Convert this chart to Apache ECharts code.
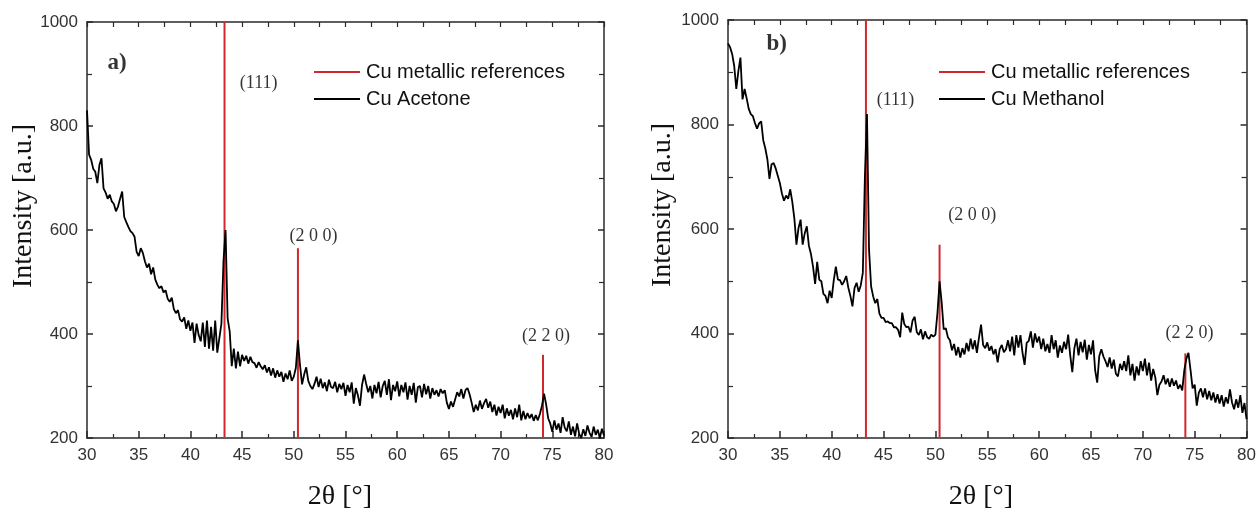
<!DOCTYPE html>
<html>
<head>
<meta charset="utf-8">
<script src="https://cdn.jsdelivr.net/npm/echarts@6/dist/echarts.min.js"></script>
<style>
html,body{margin:0;padding:0;background:#fff;}
#chart{width:1259px;height:513px;}
</style>
</head>
<body>
<div id="chart"></div>
<script>
// ---- data ----
const twoThetaStart = 30;
const twoThetaStep = 0.2;
const xTicks = [30, 35, 40, 45, 50, 55, 60, 65, 70, 75, 80];
const yTicks = [200, 400, 600, 800, 1000];

const acetoneIntensity = [
  830,745,735,718,712,690,725,738,680,672,
  660,668,655,650,636,645,660,674,625,615,
  606,598,594,587,558,550,565,556,540,528,
  535,515,528,505,495,488,492,480,484,468,
  462,470,448,440,446,428,424,432,410,426,
  406,422,383,420,398,386,422,375,426,372,
  414,368,426,364,392,420,540,600,430,405,
  338,372,334,366,338,360,348,358,343,356,
  346,344,335,346,338,332,340,326,336,320,
  334,316,330,318,327,308,324,313,330,310,
  318,335,388,340,303,322,336,310,300,294,
  304,318,298,314,296,307,290,312,298,296,
  308,288,304,294,306,281,302,288,307,266,
  296,282,262,302,322,304,288,300,276,302,
  286,308,278,300,310,283,313,273,302,290,
  309,280,302,288,307,274,300,283,306,268,
  298,300,278,304,284,300,276,296,283,292,
  280,294,286,292,268,256,270,260,274,288,
  280,294,276,292,296,284,268,250,264,253,
  272,256,267,275,258,270,250,264,243,260,
  248,264,238,257,243,254,236,257,240,264,
  234,252,236,248,238,246,233,244,234,246,
  262,285,265,238,228,212,234,216,228,210,
  240,220,213,232,206,222,203,228,208,200,
  217,204,224,210,202,222,206,216,200,218,
  205
];

const methanolIntensity = [
  955,948,935,912,868,902,928,848,868,850,
  830,820,816,803,792,802,806,770,754,733,
  696,724,726,716,702,688,668,654,664,658,
  676,652,620,570,602,618,570,592,605,568,
  552,528,495,537,503,500,476,472,458,482,
  468,502,528,503,502,493,500,510,488,472,
  452,487,497,480,492,516,700,820,560,490,
  471,458,466,438,430,430,422,423,420,420,
  412,412,407,393,440,418,412,413,402,425,
  432,403,397,408,389,404,393,390,398,394,
  398,440,500,460,408,410,393,387,368,380,
  358,374,354,372,360,382,366,390,370,387,
  363,392,417,378,372,383,367,376,360,370,
  345,370,378,364,370,387,366,394,358,397,
  373,397,363,340,382,386,404,373,400,383,
  394,370,390,366,380,363,397,370,387,354,
  377,363,384,370,398,358,326,372,390,358,
  384,364,388,350,378,360,387,330,306,357,
  370,356,347,336,354,333,350,323,318,342,
  330,347,328,358,320,342,310,337,320,347,
  328,352,320,344,310,332,316,282,302,308,
  320,303,314,298,314,300,310,294,302,291,
  330,352,363,330,295,302,262,287,295,278,
  295,274,290,272,287,268,284,266,282,260,
  278,266,293,268,255,274,258,282,248,267,
  236
];

const refPeakAngles = [43.3, 50.4, 74.1];
const refPeakTopsA = [1000, 565, 360];
const refPeakTopsB = [1000, 570, 362];
const peakLabels = ['(111)', '(2 0 0)', '(2 2 0)'];
const peakLabelAnchorsA = [[46.6, 883], [51.9, 588], [74.4, 396]];
const peakLabelAnchorsB = [[46.15, 847], [53.55, 627], [74.5, 400]];
const panelLabels = ['a)', 'b)'];
const panelLabelAnchors = [[32.9, 921], [34.7, 954]];
const seriesNames = ['Cu Acetone', 'Cu Methanol'];
const refName = 'Cu metallic references';

// ---- build ----
const serif = '"Liberation Serif", "DejaVu Serif", "Times New Roman", serif';
const sans = '"Liberation Sans", Arial, sans-serif';
const RED = '#d0282c';

function pairs(vals) {
  return vals.map((v, i) => [+(twoThetaStart + i * twoThetaStep).toFixed(2), v]);
}

const grids = [
  {left: 87, top: 22, width: 517, height: 416},
  {left: 728, top: 20, width: 520, height: 418}
];

const axisLineStyle = {color: '#2a2a2a', width: 1.5};
const xAxes = [], yAxes = [];
grids.forEach((g, gi) => {
  const base = {
    type: 'value', gridIndex: gi, min: 30, max: 80, interval: 5,
    axisLine: {show: true, lineStyle: axisLineStyle, onZero: false},
    axisTick: {show: true, inside: true, length: 7, lineStyle: {color: '#2a2a2a', width: 1.5}},
    minorTick: {show: true, splitNumber: 2, length: 4, lineStyle: {color: '#2a2a2a', width: 1.2}},
    splitLine: {show: false}
  };
  xAxes.push(Object.assign({}, base, {
    position: 'bottom',
    axisLabel: {show: true, color: '#333', fontFamily: sans, fontSize: 17, margin: 9,
      formatter: v => xTicks.includes(v) ? String(v) : ''}
  }));
  xAxes.push(Object.assign({}, base, {
    position: 'top', axisLabel: {show: false},
    axisTick: {show: true, inside: true, length: 5, lineStyle: {color: '#2a2a2a', width: 1.2}},
    minorTick: {show: true, splitNumber: 2, length: 5, lineStyle: {color: '#2a2a2a', width: 1.2}}
  }));
  const ybase = {
    type: 'value', gridIndex: gi, min: 200, max: 1000, interval: 200,
    axisLine: {show: true, lineStyle: axisLineStyle, onZero: false},
    axisTick: {show: true, inside: true, length: 6, lineStyle: {color: '#2a2a2a', width: 1.5}},
    minorTick: {show: true, splitNumber: 2, length: 5, lineStyle: {color: '#2a2a2a', width: 1.2}},
    splitLine: {show: false}
  };
  yAxes.push(Object.assign({}, ybase, {
    position: 'left',
    axisLabel: {show: true, color: '#333', fontFamily: sans, fontSize: 17, margin: 9,
      formatter: v => yTicks.includes(v) ? String(v) : ''}
  }));
  yAxes.push(Object.assign({}, ybase, {position: 'right', axisLabel: {show: false}}));
});

const series = [];
const curves = [acetoneIntensity, methanolIntensity];
const tops = [refPeakTopsA, refPeakTopsB];
const anchors = [peakLabelAnchorsA, peakLabelAnchorsB];

grids.forEach((g, gi) => {
  refPeakAngles.forEach((a, k) => {
    series.push({
      name: refName, type: 'line', xAxisIndex: gi * 2, yAxisIndex: gi * 2,
      data: [[a, 200], [a, tops[gi][k]]],
      symbol: 'none', silent: true, z: 2,
      lineStyle: {color: RED, width: 2}, itemStyle: {color: RED}
    });
  });
  series.push({
    name: seriesNames[gi], type: 'line', xAxisIndex: gi * 2, yAxisIndex: gi * 2,
    data: pairs(curves[gi]), symbol: 'none', silent: true, z: 3,
    lineStyle: {color: '#000', width: 1.8}, itemStyle: {color: '#000'}
  });
  const annData = anchors[gi].map((p, k) => ({value: [p[0], p[1]], text: peakLabels[k], bold: false}));
  annData.push({value: panelLabelAnchors[gi], text: panelLabels[gi], bold: true});
  series.push({
    type: 'scatter', xAxisIndex: gi * 2, yAxisIndex: gi * 2, silent: true, z: 5,
    symbolSize: 0,
    data: annData.map(d => ({
      value: d.value,
      label: {
        show: true, position: 'inside', formatter: d.text, color: '#000',
        fontFamily: serif, fontSize: d.bold ? 23 : 18, fontWeight: d.bold ? 'bold' : 'normal'
      }
    }))
  });
});

const legends = [
  {left: 309, top: 57},
  {left: 934, top: 57}
].map((p, gi) => ({
  left: p.left, top: p.top, orient: 'vertical',
  data: [
    {name: refName, icon: 'rect', itemStyle: {color: RED}},
    {name: seriesNames[gi], icon: 'rect', itemStyle: {color: '#000'}}
  ],
  itemWidth: 46, itemHeight: 2, itemGap: 7, selectedMode: false,
  textStyle: {fontFamily: sans, fontSize: 20, color: '#111', lineHeight: 20, padding: [0, 0, 0, 1]}
}));

const graphic = [];
[[24, 206], [663, 205]].forEach(([x, y]) => {
  graphic.push({
    type: 'text', x: x, y: y, rotation: Math.PI / 2,
    style: {text: 'Intensity [a.u.]', font: '28px ' + serif, fill: '#111',
      textAlign: 'center', textVerticalAlign: 'middle'}
  });
});
[[340, 497], [981, 497]].forEach(([x, y]) => {
  graphic.push({
    type: 'text', x: x, y: y,
    style: {text: '2θ [°]', font: '28px ' + serif, fill: '#111',
      textAlign: 'center', textVerticalAlign: 'middle'}
  });
});

const chart = echarts.init(document.getElementById('chart'), null, {renderer: 'canvas'});
chart.setOption({
  animation: false,
  backgroundColor: '#fff',
  grid: grids,
  xAxis: xAxes,
  yAxis: yAxes,
  legend: legends,
  series: series,
  graphic: graphic
});
</script>
</body>
</html>
